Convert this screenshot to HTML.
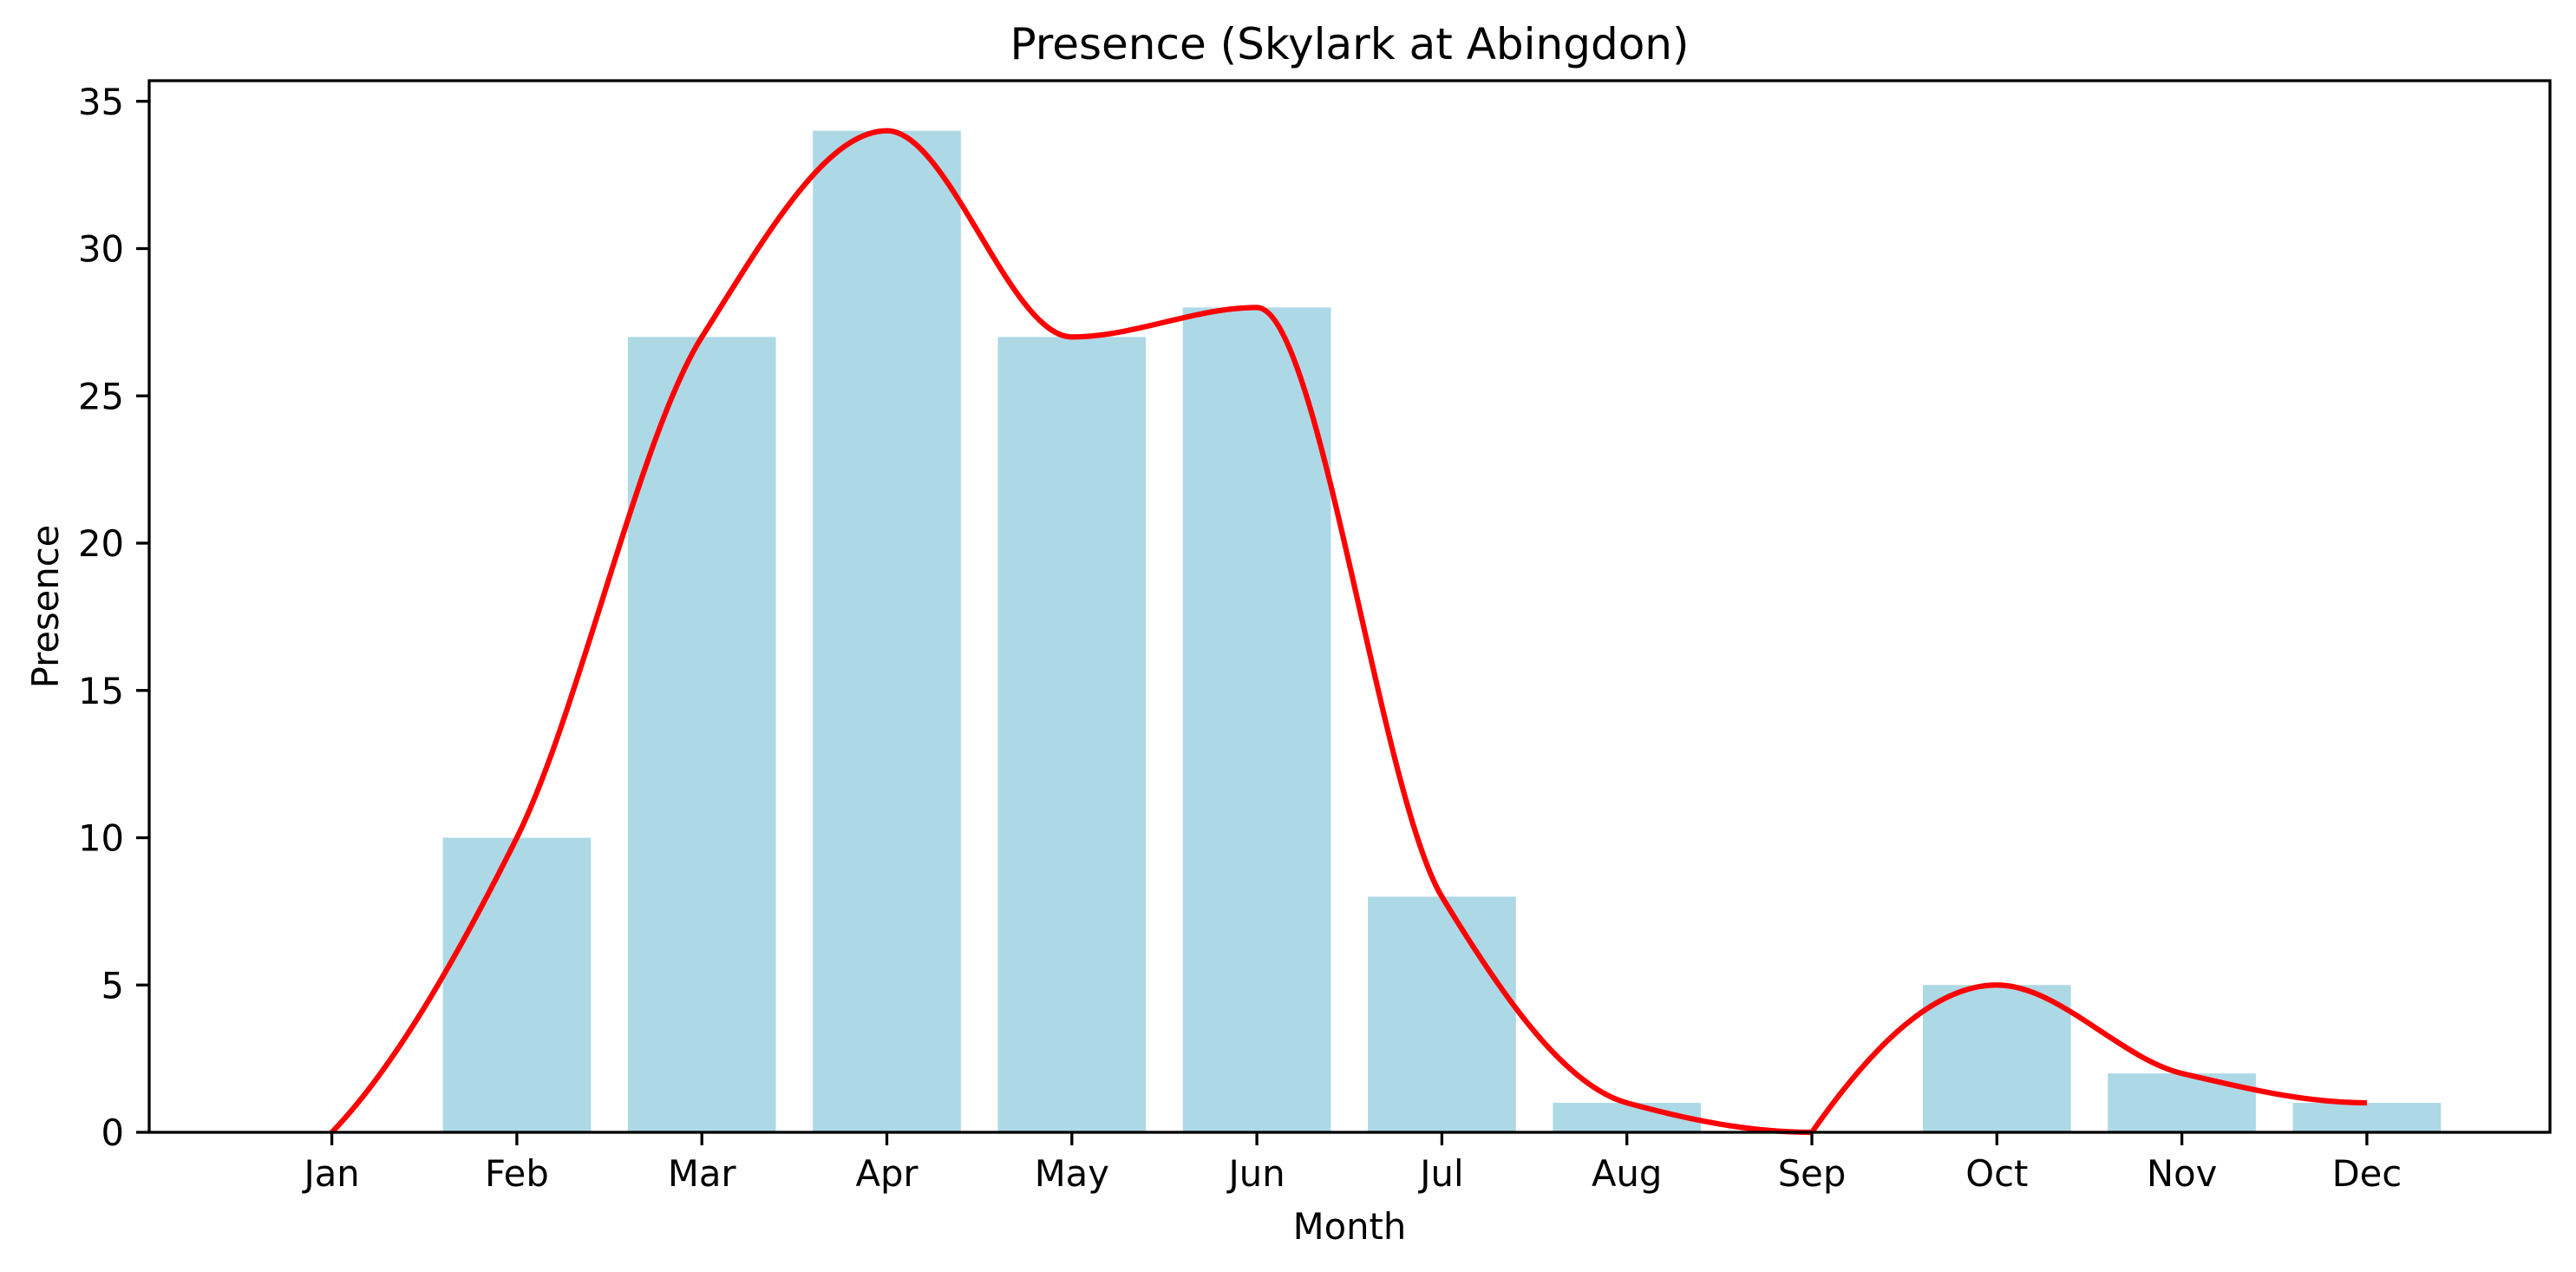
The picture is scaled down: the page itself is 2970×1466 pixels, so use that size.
<!DOCTYPE html>
<html><head><meta charset="utf-8"><style>html,body{margin:0;padding:0;background:#fff}svg{display:block}text{font-family:"DejaVu Sans","Liberation Sans",sans-serif;fill:#000}</style></head>
<body>
<svg id="s" width="2970" height="1466" viewBox="0 0 2970 1466" xmlns="http://www.w3.org/2000/svg">
<rect width="2970" height="1466" fill="#fff"/>
<g id="bars" fill="#add8e6"></g>
<path id="curve" fill="none" stroke="#ff0000" stroke-width="6.2" stroke-linejoin="round"/>
<rect x="172" y="93" width="2768" height="1212" fill="none" stroke="#000" stroke-width="3.3"/>
<g id="ticks" stroke="#000" stroke-width="3.3"></g>
<g id="labels" font-size="41.7"></g>
<text x="1556" y="68" font-size="50" text-anchor="middle">Presence (Skylark at Abingdon)</text>
<text x="1556" y="1428" font-size="41.7" text-anchor="middle">Month</text>
<text transform="translate(67,699) rotate(-90)" font-size="41.7" text-anchor="middle">Presence</text>
</svg>
<script>
var ns="http://www.w3.org/2000/svg";
var vals=[0,10,27,34,27,28,8,1,0,5,2,1];
var months=["Jan","Feb","Mar","Apr","May","Jun","Jul","Aug","Sep","Oct","Nov","Dec"];
var X0=382.6,DX=213.3,Y0=1305,DY=33.95;
function X(i){return X0+i*DX}function Y(v){return Y0-v*DY}
var bars=document.getElementById('bars'),ticks=document.getElementById('ticks'),labels=document.getElementById('labels');
function el(t,a,p,txt){var e=document.createElementNS(ns,t);for(var k in a)e.setAttribute(k,a[k]);if(txt)e.textContent=txt;p.appendChild(e);return e}
vals.forEach(function(v,i){
 if(v>0)el('rect',{x:X(i)-0.4*DX,y:Y(v),width:0.8*DX,height:v*DY},bars);
 el('line',{x1:X(i),y1:1305,x2:X(i),y2:1320},ticks);
 el('text',{x:X(i),y:1367,'text-anchor':'middle'},labels,months[i]);
});
for(var t=0;t<=35;t+=5){
 el('line',{x1:157,y1:Y(t),x2:172,y2:Y(t)},ticks);
 el('text',{x:143,y:Y(t)+15,'text-anchor':'end'},labels,String(t));
}
function ends(d0,d1){var mm=(3*d0-d1)/2;if(Math.sign(mm)!=Math.sign(d0))mm=0;else if(Math.sign(d0)!=Math.sign(d1)&&Math.abs(mm)>Math.abs(3*d0))mm=3*d0;return mm}
function pchip(s,e){
 var v=vals.slice(s,e+1),n=v.length,d=[],m=[];
 for(var i=0;i<n-1;i++)d.push(v[i+1]-v[i]);
 for(var i=1;i<n-1;i++){var a=d[i-1],b=d[i];m[i]=(a*b<=0)?0:2/(1/a+1/b);}
 if(n>2){m[0]=ends(d[0],d[1]);m[n-1]=ends(d[n-2],d[n-3]);}else{m[0]=m[1]=d[0];}
 var p="M"+X(s)+","+Y(v[0]);
 for(var i=0;i<n-1;i++){
  p+=" C"+(X(s+i)+DX/3)+","+Y(v[i]+m[i]/3)+" "+(X(s+i+1)-DX/3)+","+Y(v[i+1]-m[i+1]/3)+" "+X(s+i+1)+","+Y(v[i+1]);
 }
 return p;
}
document.getElementById('curve').setAttribute('d',pchip(0,8)+" "+pchip(8,11));
</script>
</body></html>
